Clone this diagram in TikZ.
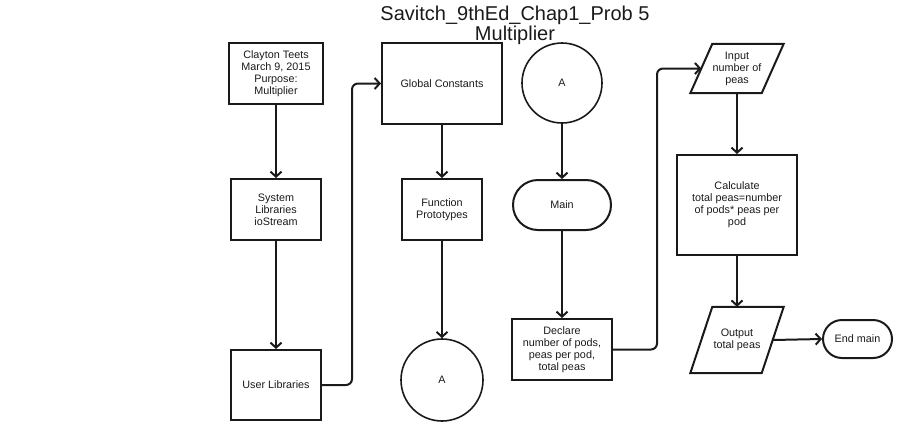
\documentclass[tikz,border=0pt]{standalone}
\usepackage{fontspec}
\setmainfont{Liberation Sans}
\usetikzlibrary{arrows.meta,shapes.misc}
\definecolor{ink}{HTML}{1A1A1A}
\begin{document}
\begin{tikzpicture}[x=1pt,y=-1pt,
  every node/.style={text=ink,font=\fontsize{10.8}{12}\selectfont,align=center,inner sep=1pt},
  box/.style={draw=ink,line width=2pt,rectangle},
  conn/.style={draw=ink,line width=2pt,line join=miter},
  term/.style={draw=ink,line width=2pt,rounded rectangle},
  circ/.style={draw=ink,line width=1.6pt,circle},
  arr/.style={draw=ink,line width=2pt,-{Straight Barb[length=5pt,width=11pt,line width=2pt]}}
]
\useasboundingbox (0,0) rectangle (919,440);
\node[font=\fontsize{20}{20}\selectfont] (title) at (515,25) {Savitch\_9thEd\_Chap1\_Prob 5\\Multiplier};

\node[box,minimum width=94pt,minimum height=61pt] (clay) at (276,73.5) {Clayton Teets\\March 9, 2015\\Purpose:\\Multiplier};
\node[box,minimum width=90pt,minimum height=61pt] (sys) at (276,209.5) {System\\Libraries\\ioStream};
\node[box,minimum width=90pt,minimum height=70pt] (user) at (276,385) {User Libraries};

\node[box,minimum width=120pt,minimum height=81pt] (glob) at (442,83.5) {Global Constants};
\node[box,minimum width=80pt,minimum height=61pt] (func) at (442,209.5) {Function\\Prototypes};
\node[circ,minimum size=82pt] (a2) at (442,380) {A};

\node[circ,minimum size=80pt] (a1) at (562,83) {A};
\node[term,minimum width=100pt,minimum height=50pt] (main) at (562,205) {Main};
\node[box,minimum width=100pt,minimum height=61pt] (decl) at (562,349.5) {Declare\\number of pods,\\peas per pod,\\total peas};

\node[minimum width=71pt,minimum height=49pt] (in) at (737,68.5) {Input\\number of\\peas};
\draw[conn] ([xshift=11pt]in.north west) -- ([xshift=11pt]in.north east) -- ([xshift=-11pt]in.south east) -- ([xshift=-11pt]in.south west) -- cycle;
\node[box,minimum width=120pt,minimum height=100pt] (calc) at (737,205) {Calculate\\total peas=number\\of pods* peas per\\pod};
\node[minimum width=71pt,minimum height=66pt] (out) at (737,340) {Output\\total peas};
\draw[conn] ([xshift=11pt]out.north west) -- ([xshift=11pt]out.north east) -- ([xshift=-11pt]out.south east) -- ([xshift=-11pt]out.south west) -- cycle;
\node[term,minimum width=71pt,minimum height=38pt] (endm) at (857.5,339) {End main};

\draw[arr] (clay) -- (sys);
\draw[arr] (sys) -- (user);
\draw[arr,rounded corners=6pt] (user.east) -- ++(30,0) |- (glob.west);
\draw[arr] (glob) -- (func);
\draw[arr] (func) -- (a2);
\draw[arr] (a1) -- (main);
\draw[arr] (main) -- (decl);
\draw[arr,rounded corners=6pt] (decl.east) -- ++(44,0) |- (in.west);
\draw[arr] (in.south) -- (calc);
\draw[arr] (calc) -- (out.north);
\draw[arr] (out.east) -- (endm.west);
\end{tikzpicture}
\end{document}
